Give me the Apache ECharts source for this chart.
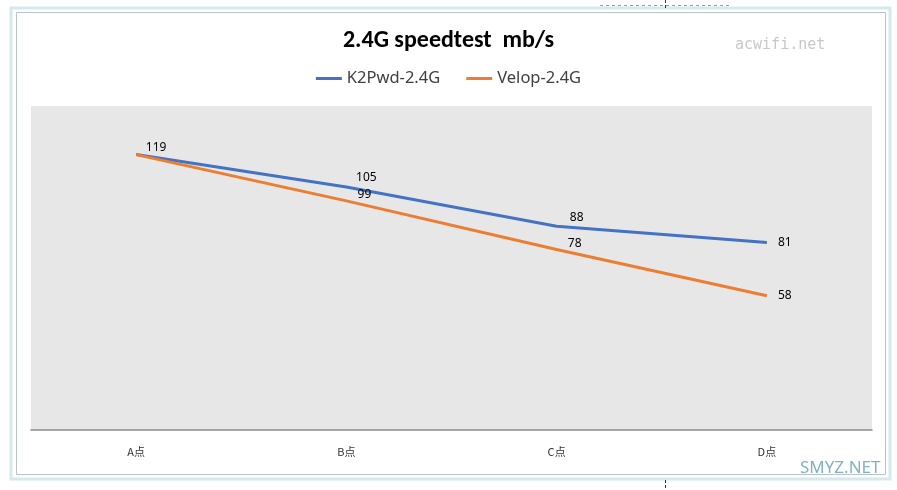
<!DOCTYPE html>
<html><head><meta charset="utf-8">
<script src="https://cdn.jsdelivr.net/npm/echarts@6/dist/echarts.min.js"></script>
<style>html,body{margin:0;padding:0;background:#fff}#c{width:897px;height:490px}</style>
</head><body><div id="c"></div>
<script>
const categories = ['A点', 'B点', 'C点', 'D点'];
const k2Values = [119, 105, 88, 81];
const velopValues = [119, 99, 78, 58];
const seriesNames = ['K2Pwd-2.4G', 'Velop-2.4G'];

const chart = echarts.init(document.getElementById('c'));
const lbl = {show: true, color: '#000', fontSize: 12, fontFamily: '"Noto Sans", sans-serif'};
function k2Label(i) {
  if (i === 3) return Object.assign({}, lbl, {position: 'right', distance: 11});
  if (i === 0) return Object.assign({}, lbl, {position: 'top', distance: 1, offset: [20, 0]});
  return Object.assign({}, lbl, {position: 'top', distance: 3, offset: [20, 0]});
}
function velopLabel(i) {
  if (i === 0) return {show: false};
  if (i === 3) return Object.assign({}, lbl, {position: 'right', distance: 11});
  return Object.assign({}, lbl, {position: 'top', distance: 0, offset: [18, 0]});
}
chart.setOption({
  animation: false,
  title: {
    text: '2.4G speedtest  mb/s', left: 'center', top: 24,
    textStyle: {fontSize: 24, fontWeight: 'bold', color: '#000', fontFamily: 'Calibri, Carlito, "Open Sans", sans-serif'}
  },
  legend: {
    top: 65, left: 'center', itemGap: 26, itemWidth: 26, itemHeight: 3,
    icon: 'rect',
    textStyle: {fontSize: 16.5, color: '#404040', fontFamily: '"Noto Sans", sans-serif'},
    data: seriesNames
  },
  grid: {left: 31, right: 25, top: 106, bottom: 60, backgroundColor: '#e7e7e7', show: true, borderWidth: 0},
  xAxis: {
    type: 'category', data: categories, boundaryGap: true,
    axisLine: {lineStyle: {color: '#8c8c8c', width: 1.5}},
    axisTick: {show: false},
    axisLabel: {color: '#333', fontSize: 11, margin: 16, fontFamily: '"Noto Sans CJK SC", sans-serif'}
  },
  yAxis: {type: 'value', min: 0, max: 140, show: false, splitLine: {show: false}},
  series: [
    {name: seriesNames[0], type: 'line', data: k2Values.map((v, i) => ({value: v, label: k2Label(i)})),
     symbol: 'circle', symbolSize: 0, showSymbol: true, lineStyle: {color: '#4472C4', width: 3}, itemStyle: {color: '#4472C4'}, z: 3},
    {name: seriesNames[1], type: 'line', data: velopValues.map((v, i) => ({value: v, label: velopLabel(i)})),
     symbol: 'circle', symbolSize: 0, showSymbol: true, lineStyle: {color: '#ED7D31', width: 3}, itemStyle: {color: '#ED7D31'}, z: 4}
  ],
  graphic: [
    {type: 'rect', shape: {x: 11, y: 8, width: 879, height: 471}, style: {fill: 'none', stroke: '#d3e9ee', lineWidth: 3}, silent: true},
    {type: 'rect', shape: {x: 16.5, y: 12.5, width: 869, height: 462}, style: {fill: 'none', stroke: '#b8c4c8', lineWidth: 1}, silent: true},
    {type: 'line', shape: {x1: 665.5, y1: 0, x2: 665.5, y2: 8}, style: {stroke: '#333', lineDash: [3, 2], lineWidth: 1}},
    {type: 'line', shape: {x1: 665.5, y1: 480, x2: 665.5, y2: 490}, style: {stroke: '#333', lineDash: [3, 2], lineWidth: 1}},
    {type: 'line', shape: {x1: 600, y1: 5.5, x2: 730, y2: 5.5}, style: {stroke: '#999', lineDash: [3, 3], lineWidth: 1}},
    {type: 'text', left: 735, top: 38, style: {text: 'acwifi.net', fill: '#c8c8c8', fontSize: 15, fontFamily: '"DejaVu Sans Mono", "Liberation Mono", monospace'}},
    {type: 'text', left: 800, top: 460, style: {text: 'SMYZ.NET', fill: '#7fb3c0', fontSize: 17, fontFamily: '"Noto Sans", sans-serif'}}
  ]
});
</script></body></html>
